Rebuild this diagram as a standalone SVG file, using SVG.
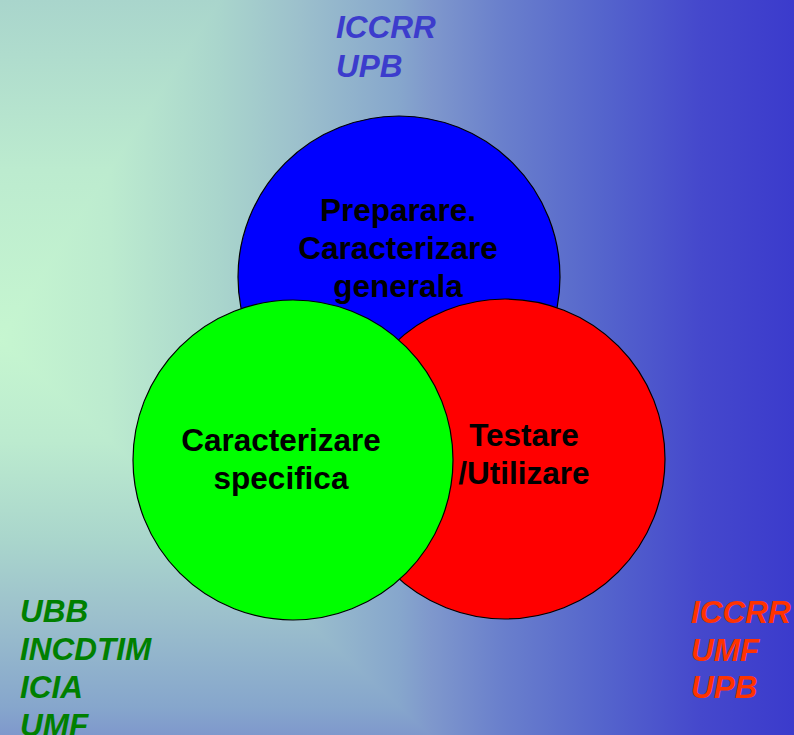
<svg xmlns="http://www.w3.org/2000/svg" width="794" height="735" viewBox="0 0 794 735">
<defs>
<linearGradient id="bgh" gradientUnits="userSpaceOnUse" x1="0" y1="0" x2="794" y2="0">
<stop offset="0" stop-color="#c6f6d0"/>
<stop offset="0.1385" stop-color="#bcebcf"/>
<stop offset="0.277" stop-color="#a9d5cc"/>
<stop offset="0.378" stop-color="#9cc0cc"/>
<stop offset="0.504" stop-color="#86a6cc"/>
<stop offset="0.542" stop-color="#7f98cc"/>
<stop offset="0.63" stop-color="#6a80cc"/>
<stop offset="0.756" stop-color="#5565cc"/>
<stop offset="0.882" stop-color="#4548cc"/>
<stop offset="1" stop-color="#3b3bcc"/>
</linearGradient>
<linearGradient id="bgt" gradientUnits="userSpaceOnUse" x1="0" y1="0" x2="0" y2="340">
<stop offset="0" stop-color="#a9d5cc"/>
<stop offset="0.5" stop-color="#bcebcf"/>
<stop offset="1" stop-color="#c6f6d0"/>
</linearGradient>
<linearGradient id="bgb" gradientUnits="userSpaceOnUse" x1="0" y1="340" x2="0" y2="735">
<stop offset="0" stop-color="#c6f6d0"/>
<stop offset="0.256" stop-color="#bcebcf"/>
<stop offset="0.512" stop-color="#a9d5cc"/>
<stop offset="0.698" stop-color="#9cc0cc"/>
<stop offset="0.930" stop-color="#86a6cc"/>
<stop offset="1" stop-color="#7f98cc"/>
</linearGradient>
<style>
.c{stroke:#000;stroke-width:1.2}
.t{font-family:"Liberation Sans",Arial,sans-serif;font-weight:bold;font-size:31.5px;fill:#000;text-anchor:middle}
.l{font-family:"Liberation Sans",Arial,sans-serif;font-weight:bold;font-style:italic;font-size:31.5px}
</style>
</defs>
<rect width="794" height="735" fill="url(#bgh)"/>
<polygon points="0,0 220,0 0,340" fill="url(#bgt)"/>
<polygon points="0,340 430,735 0,735" fill="url(#bgb)"/>
<g id="blue"><circle class="c" cx="399" cy="277" r="161" fill="#0000ff"/>
<text class="t"><tspan x="398" y="221">Preparare.</tspan><tspan x="398" y="259">Caracterizare</tspan><tspan x="398" y="297">generala</tspan></text></g>
<g id="red"><circle class="c" cx="505" cy="459" r="160" fill="#ff0000"/>
<text class="t"><tspan x="524" y="446">Testare</tspan><tspan x="524" y="484">/Utilizare</tspan></text></g>
<g id="green"><circle class="c" cx="293" cy="460" r="160" fill="#00ff00"/>
<text class="t"><tspan x="281" y="451">Caracterizare</tspan><tspan x="281" y="489">specifica</tspan></text></g>
<g id="labels-top"><text class="l" fill="#3c3ccc"><tspan x="336" y="38">ICCRR</tspan><tspan x="336" y="77">UPB</tspan></text></g>
<g id="labels-left"><text class="l" fill="#008000"><tspan x="20" y="622">UBB</tspan><tspan x="20" y="660">INCDTIM</tspan><tspan x="20" y="698">ICIA</tspan><tspan x="20" y="736">UMF</tspan></text></g>
<g id="labels-right"><text class="l" fill="#ff3300"><tspan x="691" y="623">ICCRR</tspan><tspan x="691" y="661">UMF</tspan><tspan x="691" y="698">UPB</tspan></text></g>
<g id="connectors"/>
</svg>
